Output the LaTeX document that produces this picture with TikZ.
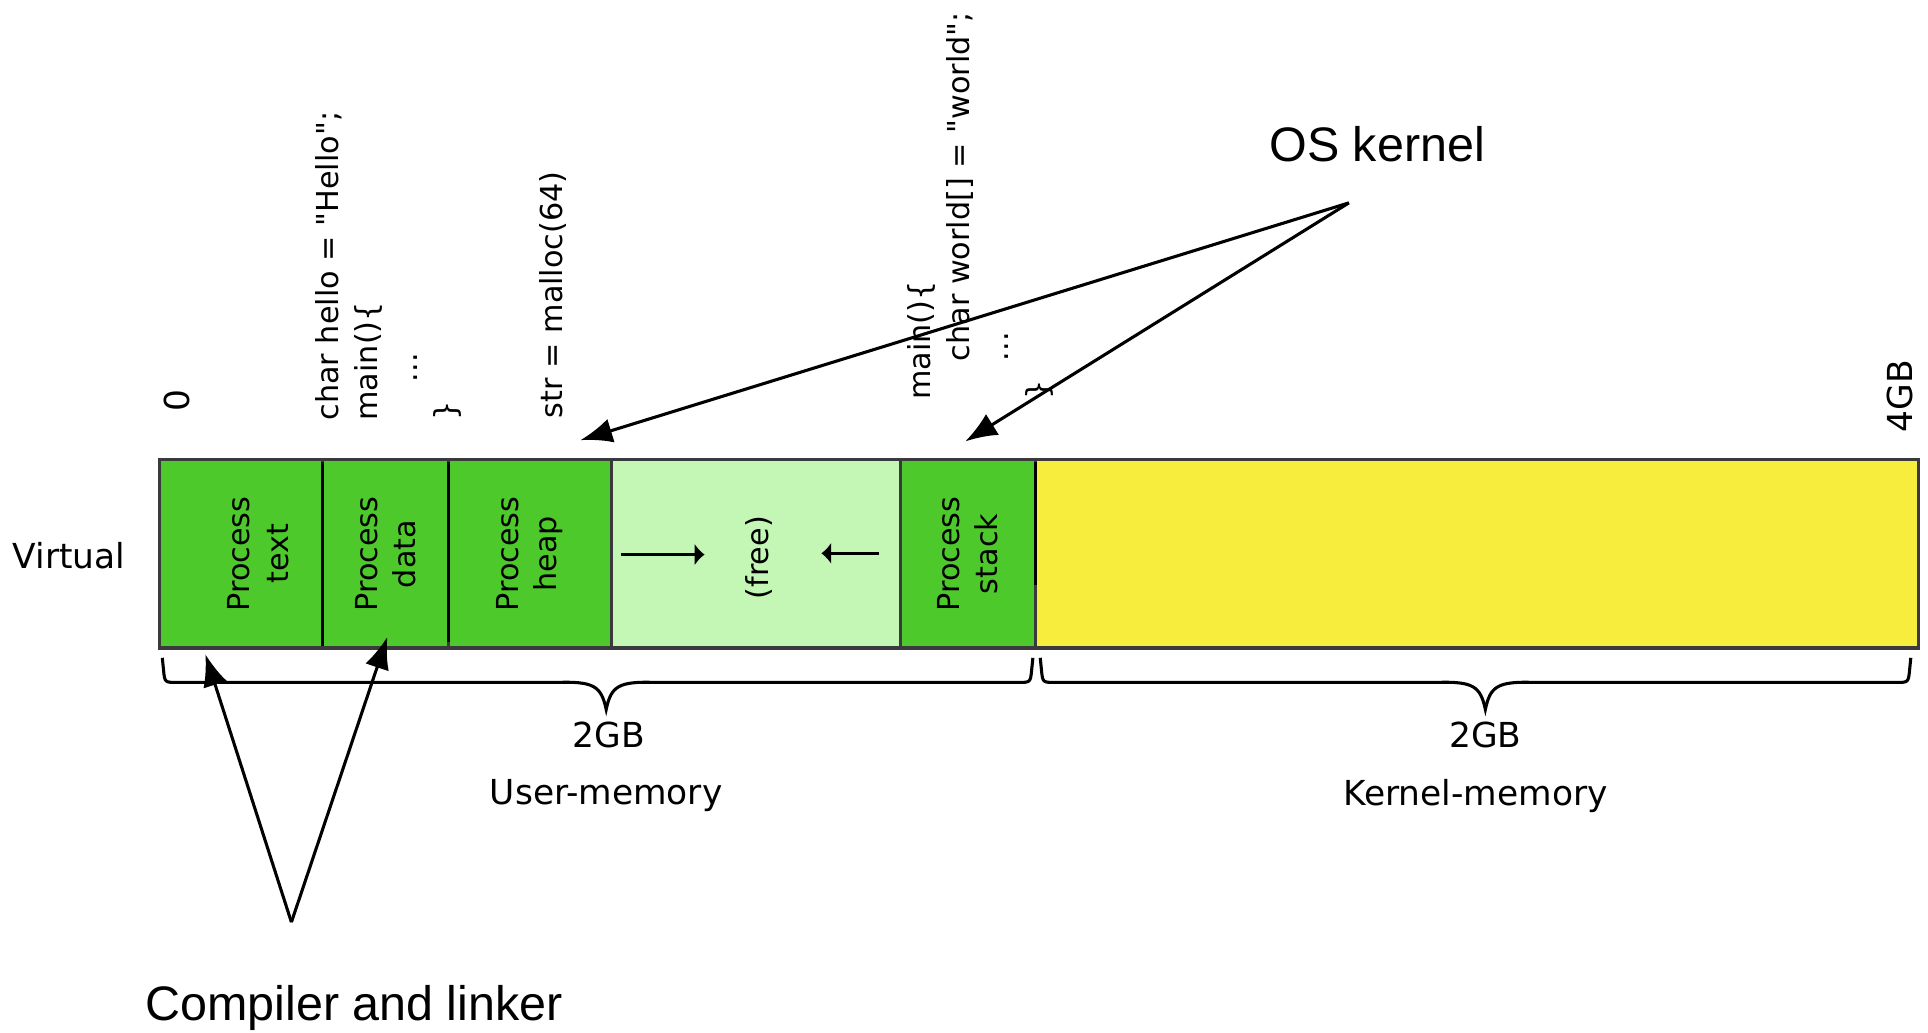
\documentclass[tikz,border=0pt]{standalone}
\usepackage{fontspec}
\setmainfont{DejaVu Sans}
\newfontfamily\arialfont{Liberation Sans}
\usepackage{tikz}
\usetikzlibrary{arrows.meta}
\definecolor{procgreen}{RGB}{77,201,44}
\definecolor{freegreen}{RGB}{196,247,181}
\definecolor{kernyellow}{RGB}{247,237,61}
\definecolor{edgegray}{RGB}{58,58,62}
\newcommand{\qt}{\textquotedbl}
\newcommand{\membrace}[3]{%
	\draw (#1,535) -- ({#1+1},545) .. controls ({#1+2},555) .. ({#1+12},555)
	-- ({#2-40},555) .. controls ({#2-10},554) and ({#2-4},558) .. (#2,577)
	.. controls ({#2+4},558) and ({#2+10},554) .. ({#2+40},555)
	-- ({#3-12},555) .. controls ({#3-2},555) .. ({#3-1},545) -- (#3,535);}

\begin{document}
\begin{tikzpicture}[x=0.5pt, y=-0.5pt, line width=1.25pt]
	\tikzstyle{every node} = [rectangle, inner sep=0pt, outer sep=0pt, font=\fontsize{14pt}{17pt}\selectfont]
	\tikzstyle{seg} = [draw=edgegray, anchor=north west, minimum height=76.5pt]
	\tikzstyle{seglbl} = [rotate=90, align=center, font=\fontsize{12.3pt}{15.5pt}\selectfont]
	\tikzstyle{code} = [rotate=90, align=left, anchor=west, font=\fontsize{12.3pt}{16pt}\selectfont]
	\tikzstyle{big} = [font=\arialfont\fontsize{19.7pt}{24pt}\selectfont]
	\tikzstyle{pointer} = [-{Latex[length=13pt,width=10pt]}]
	\tikzstyle{growarrow} = [-{Latex[length=4pt,width=9pt]}, line width=1pt]
	\useasboundingbox (0,0) rectangle (1568,840);
	% the address space
	\node[seg, fill=procgreen, minimum width=66pt]    (text)   at (130,374) {};
	\node[seg, fill=procgreen, minimum width=51.5pt]  (data)   at (text.north east) {};
	\node[seg, fill=procgreen, minimum width=66pt]    (heap)   at (data.north east) {};
	\node[seg, fill=freegreen, minimum width=117.5pt] (free)   at (heap.north east) {};
	\node[seg, fill=procgreen, minimum width=55pt]    (stack)  at (free.north east) {};
	\node[seg, fill=kernyellow, minimum width=359pt]  (kernel) at (stack.north east) {};
	\draw ([yshift=-1pt]text.north east) -- ([yshift=1pt]text.south east);
	\draw ([yshift=-1pt]data.north east) -- ([yshift=2.5pt]data.south east);
	\draw ([yshift=-1pt]stack.north east) -- ++(0,100);
	\node[seglbl] (textlbl)  at ([xshift=7pt]text.center) {Process\\text};
	\node[seglbl] (datalbl)  at (data.center) {Process\\data};
	\node[seglbl] (heaplbl)  at (heap.center) {Process\\heap};
	\node[seglbl] (freelbl)  at ([xshift=1.5pt,yshift=-1.5pt]free.center) {(free)};
	\node[seglbl] (stacklbl) at (stack.center) {Process\\stack};
	\coordinate (heapgrow) at (505,451);
	\coordinate (heapend)  at (573,451);
	\coordinate (stackgrow) at (715,450);
	\coordinate (stackend)  at (668,450);
	\draw[growarrow] (heapgrow) -- (heapend);
	\draw[growarrow] (stackgrow) -- (stackend);
	\node (virtual) at (56,452) {Virtual};
	% addresses and code
	\node[rotate=90] (zero) at (144,326) {0};
	\node[rotate=90] (fourgb) at (1545,322) {4GB};
	\node[code] (hello)  at (316,342) {char hello = \qt Hello\qt;\\main()\{\\\hspace*{1.27em}...\\\}};
	\node[code] (malloc) at (450,340) {str = malloc(64)};
	\node[code] (world)  at (797,325) {main()\{\\\hspace*{1.27em}char world[] = \qt world\qt;\\\hspace*{1.27em}...\\\}};
	% who fills what
	\node[big] (os) at (1120,117) {OS kernel};
	\coordinate (osapex)   at (1097,165);
	\coordinate (heaptop)  at (472,358);
	\coordinate (stacktop) at (785,359);
	\draw[pointer] (osapex) -- (heaptop);
	\draw[pointer] (osapex) -- (stacktop);
	\node[big] (cc) at (288,820) {Compiler and linker};
	\coordinate (ccapex)  at (237,750);
	\coordinate (texttip) at (167,532);
	\coordinate (datatip) at (315,518);
	\draw[pointer] (ccapex) -- (texttip);
	\draw[pointer] (ccapex) -- (datatip);
	% user and kernel halves
	\membrace{132}{493}{840}
	\membrace{846}{1208}{1554}
	\node (usersize) at (495,598) {2GB};
	\node (userlbl)  at (493,647) {User-memory};
	\node (kernsize) at (1208,598) {2GB};
	\node (kernlbl)  at (1200,647) {Kernel-memory};
\end{tikzpicture}
\end{document}
